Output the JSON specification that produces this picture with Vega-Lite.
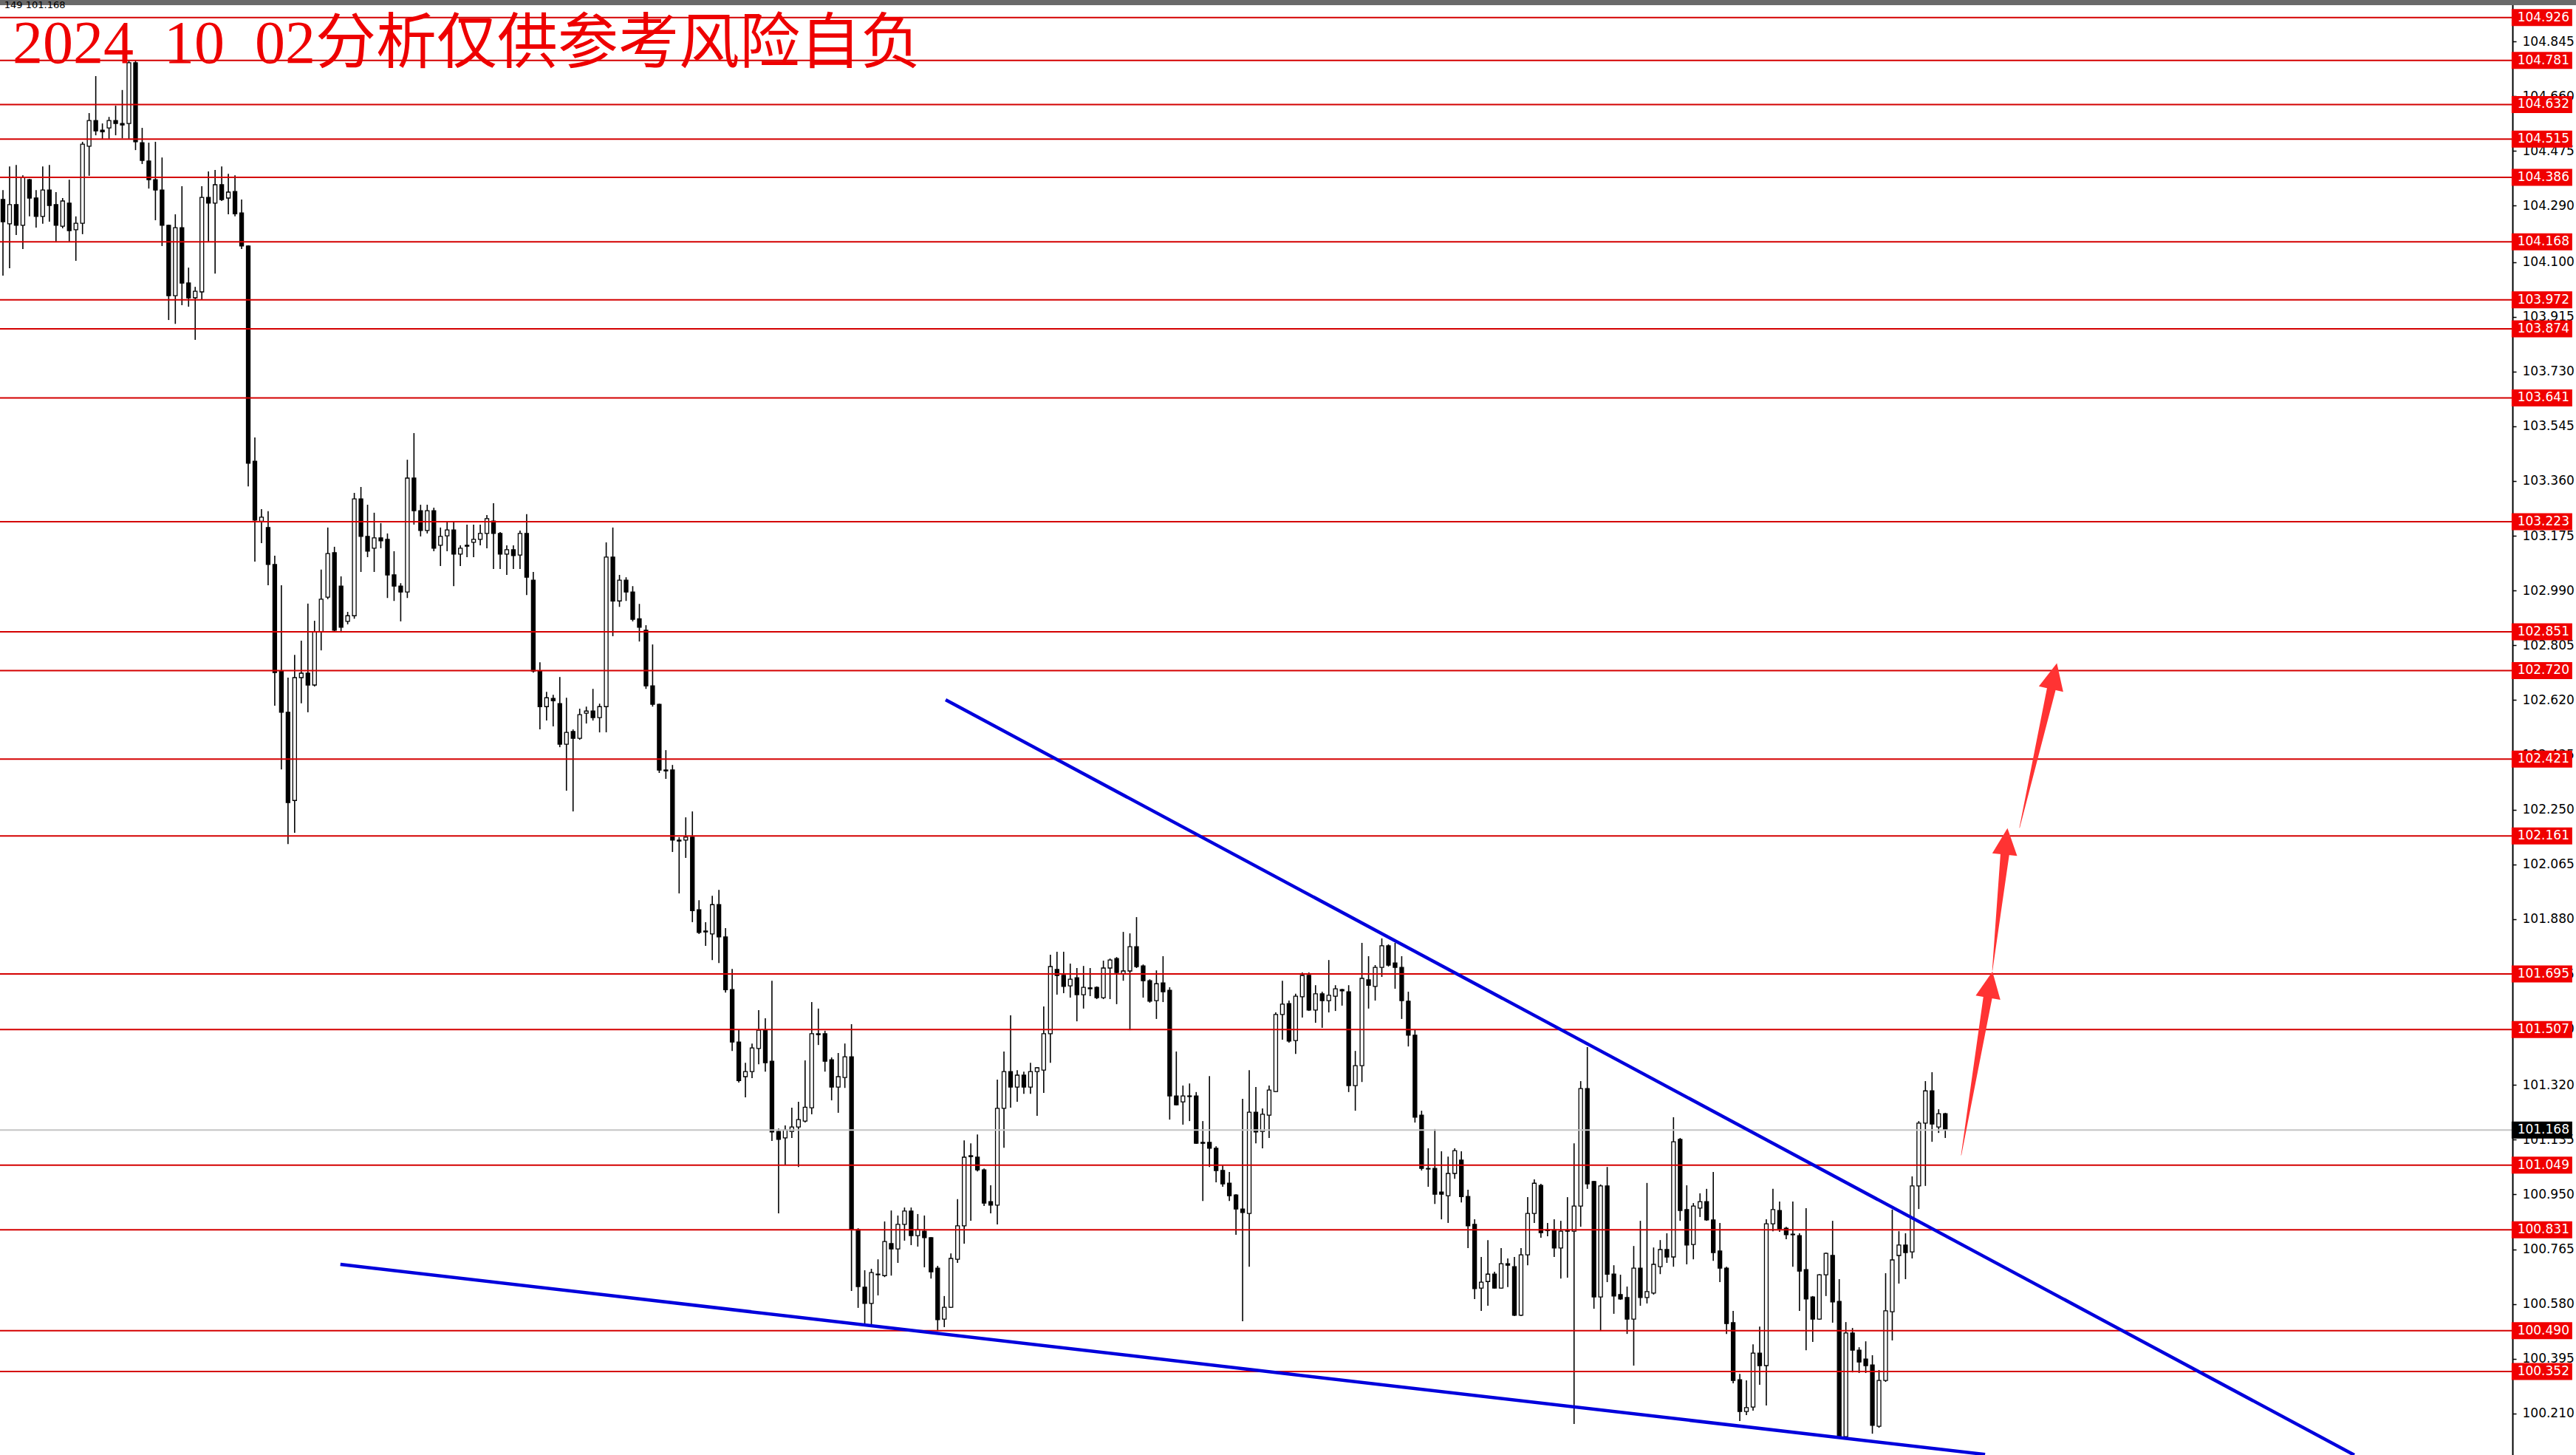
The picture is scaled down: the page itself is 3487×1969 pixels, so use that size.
{
"$schema": "https://vega.github.io/schema/vega-lite/v6.json",
"width": 3401,
"height": 1969,
"autosize": "none",
"padding": {"left": 0, "top": 0, "right": 86, "bottom": 0},
"background": "white",
"config": {"view": {"stroke": null},
"axis": {"grid": false},
"axisY": {"domainColor": "black", "domainWidth": 2, "tickColor": "black", "tickSize": 5, "tickWidth": 1.5,
"labelFont": "DejaVu Sans", "labelFontSize": 17, "labelColor": "black", "labelPadding": 8,
"labelOverlap": false, "labelFlush": false, "labelBound": false, "zindex": 0}},
"datasets": {
"candles": [
{"i":0,"o":104.311,"h":104.343,"l":104.054,"c":104.236},
{"i":1,"o":104.229,"h":104.423,"l":104.079,"c":104.294},
{"i":2,"o":104.294,"h":104.428,"l":104.191,"c":104.224},
{"i":3,"o":104.224,"h":104.393,"l":104.144,"c":104.386},
{"i":4,"o":104.378,"h":104.381,"l":104.254,"c":104.316},
{"i":5,"o":104.316,"h":104.343,"l":104.216,"c":104.254},
{"i":6,"o":104.254,"h":104.423,"l":104.229,"c":104.343},
{"i":7,"o":104.343,"h":104.428,"l":104.236,"c":104.291},
{"i":8,"o":104.294,"h":104.336,"l":104.169,"c":104.224},
{"i":9,"o":104.221,"h":104.316,"l":104.214,"c":104.306},
{"i":10,"o":104.299,"h":104.378,"l":104.169,"c":104.206},
{"i":11,"o":104.209,"h":104.254,"l":104.104,"c":104.231},
{"i":12,"o":104.231,"h":104.506,"l":104.194,"c":104.498},
{"i":13,"o":104.491,"h":104.603,"l":104.391,"c":104.578},
{"i":14,"o":104.578,"h":104.728,"l":104.528,"c":104.543},
{"i":15,"o":104.545,"h":104.568,"l":104.516,"c":104.540},
{"i":16,"o":104.553,"h":104.590,"l":104.516,"c":104.578},
{"i":17,"o":104.578,"h":104.628,"l":104.528,"c":104.568},
{"i":18,"o":104.568,"h":104.681,"l":104.518,"c":104.563},
{"i":19,"o":104.568,"h":104.780,"l":104.516,"c":104.773},
{"i":20,"o":104.773,"h":104.781,"l":104.478,"c":104.506},
{"i":21,"o":104.503,"h":104.553,"l":104.431,"c":104.443},
{"i":22,"o":104.441,"h":104.503,"l":104.348,"c":104.378},
{"i":23,"o":104.378,"h":104.506,"l":104.241,"c":104.343},
{"i":24,"o":104.343,"h":104.453,"l":104.154,"c":104.224},
{"i":25,"o":104.224,"h":104.226,"l":103.904,"c":103.986},
{"i":26,"o":103.986,"h":104.261,"l":103.891,"c":104.216},
{"i":27,"o":104.216,"h":104.356,"l":103.954,"c":104.029},
{"i":28,"o":104.029,"h":104.081,"l":103.949,"c":103.979},
{"i":29,"o":103.979,"h":104.016,"l":103.837,"c":104.001},
{"i":30,"o":103.999,"h":104.356,"l":103.974,"c":104.318},
{"i":31,"o":104.318,"h":104.406,"l":104.166,"c":104.299},
{"i":32,"o":104.299,"h":104.411,"l":104.061,"c":104.361},
{"i":33,"o":104.361,"h":104.423,"l":104.306,"c":104.311},
{"i":34,"o":104.316,"h":104.398,"l":104.261,"c":104.336},
{"i":35,"o":104.338,"h":104.393,"l":104.254,"c":104.263},
{"i":36,"o":104.266,"h":104.311,"l":104.144,"c":104.154},
{"i":37,"o":104.154,"h":104.156,"l":103.342,"c":103.420},
{"i":38,"o":103.427,"h":103.507,"l":103.088,"c":103.228},
{"i":39,"o":103.224,"h":103.265,"l":103.150,"c":103.238},
{"i":40,"o":103.203,"h":103.258,"l":103.008,"c":103.078},
{"i":41,"o":103.078,"h":103.108,"l":102.601,"c":102.713},
{"i":42,"o":102.718,"h":103.008,"l":102.386,"c":102.579},
{"i":43,"o":102.579,"h":102.696,"l":102.134,"c":102.274},
{"i":44,"o":102.281,"h":102.773,"l":102.172,"c":102.696},
{"i":45,"o":102.696,"h":102.821,"l":102.609,"c":102.711},
{"i":46,"o":102.711,"h":102.946,"l":102.579,"c":102.671},
{"i":47,"o":102.671,"h":102.888,"l":102.666,"c":102.851},
{"i":48,"o":102.851,"h":103.061,"l":102.788,"c":102.961},
{"i":49,"o":102.968,"h":103.203,"l":102.961,"c":103.115},
{"i":50,"o":103.118,"h":103.138,"l":102.851,"c":102.856},
{"i":51,"o":103.005,"h":103.038,"l":102.848,"c":102.866},
{"i":52,"o":102.886,"h":102.918,"l":102.876,"c":102.905},
{"i":53,"o":102.905,"h":103.320,"l":102.895,"c":103.300},
{"i":54,"o":103.300,"h":103.340,"l":103.053,"c":103.173},
{"i":55,"o":103.173,"h":103.280,"l":103.103,"c":103.123},
{"i":56,"o":103.133,"h":103.253,"l":103.053,"c":103.168},
{"i":57,"o":103.168,"h":103.218,"l":103.133,"c":103.158},
{"i":58,"o":103.163,"h":103.183,"l":102.965,"c":103.043},
{"i":59,"o":103.043,"h":103.123,"l":102.955,"c":103.005},
{"i":60,"o":103.005,"h":103.015,"l":102.886,"c":102.985},
{"i":61,"o":102.985,"h":103.432,"l":102.965,"c":103.370},
{"i":62,"o":103.370,"h":103.522,"l":103.213,"c":103.260},
{"i":63,"o":103.260,"h":103.280,"l":103.173,"c":103.193},
{"i":64,"o":103.193,"h":103.280,"l":103.183,"c":103.260},
{"i":65,"o":103.260,"h":103.270,"l":103.123,"c":103.133},
{"i":66,"o":103.143,"h":103.203,"l":103.073,"c":103.173},
{"i":67,"o":103.175,"h":103.223,"l":103.123,"c":103.195},
{"i":68,"o":103.195,"h":103.223,"l":103.005,"c":103.113},
{"i":69,"o":103.113,"h":103.143,"l":103.073,"c":103.133},
{"i":70,"o":103.143,"h":103.213,"l":103.103,"c":103.140},
{"i":71,"o":103.153,"h":103.213,"l":103.103,"c":103.163},
{"i":72,"o":103.163,"h":103.213,"l":103.143,"c":103.183},
{"i":73,"o":103.183,"h":103.245,"l":103.133,"c":103.233},
{"i":74,"o":103.225,"h":103.285,"l":103.063,"c":103.183},
{"i":75,"o":103.183,"h":103.188,"l":103.063,"c":103.113},
{"i":76,"o":103.113,"h":103.143,"l":103.043,"c":103.128},
{"i":77,"o":103.128,"h":103.143,"l":103.063,"c":103.108},
{"i":78,"o":103.110,"h":103.193,"l":103.063,"c":103.183},
{"i":79,"o":103.183,"h":103.248,"l":102.975,"c":103.035},
{"i":80,"o":103.025,"h":103.053,"l":102.713,"c":102.718},
{"i":81,"o":102.718,"h":102.748,"l":102.521,"c":102.598},
{"i":82,"o":102.598,"h":102.648,"l":102.551,"c":102.628},
{"i":83,"o":102.626,"h":102.638,"l":102.531,"c":102.618},
{"i":84,"o":102.608,"h":102.698,"l":102.461,"c":102.471},
{"i":85,"o":102.471,"h":102.628,"l":102.314,"c":102.511},
{"i":86,"o":102.514,"h":102.521,"l":102.244,"c":102.491},
{"i":87,"o":102.491,"h":102.591,"l":102.486,"c":102.571},
{"i":88,"o":102.576,"h":102.598,"l":102.541,"c":102.583},
{"i":89,"o":102.583,"h":102.658,"l":102.551,"c":102.561},
{"i":90,"o":102.561,"h":102.608,"l":102.511,"c":102.598},
{"i":91,"o":102.598,"h":103.153,"l":102.511,"c":103.103},
{"i":92,"o":103.103,"h":103.203,"l":102.836,"c":102.955},
{"i":93,"o":102.955,"h":103.043,"l":102.935,"c":103.025},
{"i":94,"o":103.025,"h":103.035,"l":102.955,"c":102.985},
{"i":95,"o":102.985,"h":103.005,"l":102.886,"c":102.893},
{"i":96,"o":102.895,"h":102.945,"l":102.818,"c":102.866},
{"i":97,"o":102.856,"h":102.873,"l":102.658,"c":102.668},
{"i":98,"o":102.668,"h":102.808,"l":102.598,"c":102.606},
{"i":99,"o":102.606,"h":102.608,"l":102.374,"c":102.384},
{"i":100,"o":102.384,"h":102.451,"l":102.354,"c":102.381},
{"i":101,"o":102.384,"h":102.401,"l":102.107,"c":102.147},
{"i":102,"o":102.147,"h":102.157,"l":101.967,"c":102.144},
{"i":103,"o":102.147,"h":102.224,"l":102.087,"c":102.157},
{"i":104,"o":102.157,"h":102.244,"l":101.870,"c":101.909},
{"i":105,"o":101.912,"h":101.944,"l":101.830,"c":101.835},
{"i":106,"o":101.840,"h":101.870,"l":101.790,"c":101.837},
{"i":107,"o":101.830,"h":101.959,"l":101.742,"c":101.929},
{"i":108,"o":101.929,"h":101.979,"l":101.732,"c":101.820},
{"i":109,"o":101.820,"h":101.850,"l":101.632,"c":101.642},
{"i":110,"o":101.642,"h":101.712,"l":101.435,"c":101.465},
{"i":111,"o":101.465,"h":101.508,"l":101.328,"c":101.335},
{"i":112,"o":101.348,"h":101.395,"l":101.278,"c":101.365},
{"i":113,"o":101.365,"h":101.460,"l":101.343,"c":101.445},
{"i":114,"o":101.443,"h":101.573,"l":101.390,"c":101.505},
{"i":115,"o":101.505,"h":101.545,"l":101.365,"c":101.395},
{"i":116,"o":101.400,"h":101.672,"l":101.131,"c":101.161},
{"i":117,"o":101.163,"h":101.173,"l":100.886,"c":101.136},
{"i":118,"o":101.141,"h":101.183,"l":101.051,"c":101.168},
{"i":119,"o":101.163,"h":101.243,"l":101.141,"c":101.178},
{"i":120,"o":101.178,"h":101.263,"l":101.043,"c":101.203},
{"i":121,"o":101.198,"h":101.403,"l":101.193,"c":101.245},
{"i":122,"o":101.243,"h":101.600,"l":101.221,"c":101.493},
{"i":123,"o":101.493,"h":101.578,"l":101.455,"c":101.490},
{"i":124,"o":101.493,"h":101.503,"l":101.365,"c":101.400},
{"i":125,"o":101.405,"h":101.413,"l":101.268,"c":101.313},
{"i":126,"o":101.313,"h":101.428,"l":101.226,"c":101.348},
{"i":127,"o":101.345,"h":101.460,"l":101.310,"c":101.415},
{"i":128,"o":101.415,"h":101.525,"l":100.624,"c":100.831},
{"i":129,"o":100.831,"h":100.836,"l":100.567,"c":100.639},
{"i":130,"o":100.637,"h":100.694,"l":100.512,"c":100.582},
{"i":131,"o":100.582,"h":100.699,"l":100.507,"c":100.686},
{"i":132,"o":100.681,"h":100.731,"l":100.609,"c":100.679},
{"i":133,"o":100.676,"h":100.859,"l":100.671,"c":100.791},
{"i":134,"o":100.784,"h":100.896,"l":100.676,"c":100.766},
{"i":135,"o":100.766,"h":100.879,"l":100.719,"c":100.849},
{"i":136,"o":100.849,"h":100.906,"l":100.794,"c":100.894},
{"i":137,"o":100.894,"h":100.906,"l":100.779,"c":100.811},
{"i":138,"o":100.811,"h":100.884,"l":100.774,"c":100.831},
{"i":139,"o":100.826,"h":100.879,"l":100.704,"c":100.804},
{"i":140,"o":100.804,"h":100.806,"l":100.666,"c":100.689},
{"i":141,"o":100.701,"h":100.709,"l":100.489,"c":100.527},
{"i":142,"o":100.529,"h":100.607,"l":100.502,"c":100.569},
{"i":143,"o":100.569,"h":100.751,"l":100.567,"c":100.734},
{"i":144,"o":100.731,"h":100.934,"l":100.719,"c":100.844},
{"i":145,"o":100.844,"h":101.133,"l":100.784,"c":101.076},
{"i":146,"o":101.081,"h":101.123,"l":100.861,"c":101.078},
{"i":147,"o":101.076,"h":101.153,"l":101.028,"c":101.033},
{"i":148,"o":101.033,"h":101.038,"l":100.911,"c":100.921},
{"i":149,"o":100.926,"h":100.981,"l":100.886,"c":100.914},
{"i":150,"o":100.914,"h":101.338,"l":100.849,"c":101.241},
{"i":151,"o":101.241,"h":101.433,"l":101.108,"c":101.365},
{"i":152,"o":101.365,"h":101.555,"l":101.243,"c":101.313},
{"i":153,"o":101.313,"h":101.370,"l":101.263,"c":101.353},
{"i":154,"o":101.353,"h":101.365,"l":101.290,"c":101.313},
{"i":155,"o":101.313,"h":101.395,"l":101.290,"c":101.365},
{"i":156,"o":101.365,"h":101.380,"l":101.216,"c":101.378},
{"i":157,"o":101.370,"h":101.585,"l":101.293,"c":101.493},
{"i":158,"o":101.493,"h":101.760,"l":101.395,"c":101.720},
{"i":159,"o":101.710,"h":101.770,"l":101.625,"c":101.690},
{"i":160,"o":101.690,"h":101.770,"l":101.630,"c":101.653},
{"i":161,"o":101.655,"h":101.730,"l":101.615,"c":101.677},
{"i":162,"o":101.682,"h":101.715,"l":101.535,"c":101.625},
{"i":163,"o":101.625,"h":101.722,"l":101.578,"c":101.650},
{"i":164,"o":101.648,"h":101.715,"l":101.620,"c":101.645},
{"i":165,"o":101.650,"h":101.653,"l":101.610,"c":101.615},
{"i":166,"o":101.615,"h":101.740,"l":101.610,"c":101.715},
{"i":167,"o":101.715,"h":101.747,"l":101.610,"c":101.742},
{"i":168,"o":101.747,"h":101.752,"l":101.593,"c":101.700},
{"i":169,"o":101.695,"h":101.837,"l":101.672,"c":101.705},
{"i":170,"o":101.705,"h":101.832,"l":101.505,"c":101.787},
{"i":171,"o":101.787,"h":101.887,"l":101.715,"c":101.720},
{"i":172,"o":101.722,"h":101.727,"l":101.615,"c":101.672},
{"i":173,"o":101.672,"h":101.677,"l":101.598,"c":101.603},
{"i":174,"o":101.605,"h":101.707,"l":101.543,"c":101.662},
{"i":175,"o":101.665,"h":101.755,"l":101.600,"c":101.635},
{"i":176,"o":101.640,"h":101.650,"l":101.203,"c":101.283},
{"i":177,"o":101.283,"h":101.433,"l":101.251,"c":101.253},
{"i":178,"o":101.263,"h":101.318,"l":101.186,"c":101.283},
{"i":179,"o":101.283,"h":101.325,"l":101.198,"c":101.281},
{"i":180,"o":101.283,"h":101.296,"l":101.121,"c":101.123},
{"i":181,"o":101.126,"h":101.198,"l":100.928,"c":101.123},
{"i":182,"o":101.126,"h":101.350,"l":101.043,"c":101.106},
{"i":183,"o":101.106,"h":101.113,"l":100.991,"c":101.031},
{"i":184,"o":101.031,"h":101.048,"l":100.976,"c":100.986},
{"i":185,"o":100.988,"h":101.026,"l":100.928,"c":100.946},
{"i":186,"o":100.948,"h":100.951,"l":100.814,"c":100.901},
{"i":187,"o":100.901,"h":101.273,"l":100.522,"c":100.889},
{"i":188,"o":100.886,"h":101.370,"l":100.706,"c":101.228},
{"i":189,"o":101.228,"h":101.313,"l":101.123,"c":101.161},
{"i":190,"o":101.163,"h":101.241,"l":101.106,"c":101.221},
{"i":191,"o":101.218,"h":101.318,"l":101.141,"c":101.303},
{"i":192,"o":101.298,"h":101.565,"l":101.296,"c":101.558},
{"i":193,"o":101.558,"h":101.672,"l":101.473,"c":101.593},
{"i":194,"o":101.595,"h":101.605,"l":101.463,"c":101.468},
{"i":195,"o":101.470,"h":101.628,"l":101.425,"c":101.620},
{"i":196,"o":101.618,"h":101.700,"l":101.548,"c":101.690},
{"i":197,"o":101.690,"h":101.700,"l":101.570,"c":101.573},
{"i":198,"o":101.573,"h":101.657,"l":101.530,"c":101.628},
{"i":199,"o":101.628,"h":101.635,"l":101.513,"c":101.605},
{"i":200,"o":101.605,"h":101.742,"l":101.565,"c":101.623},
{"i":201,"o":101.620,"h":101.657,"l":101.570,"c":101.645},
{"i":202,"o":101.642,"h":101.645,"l":101.588,"c":101.638},
{"i":203,"o":101.635,"h":101.657,"l":101.296,"c":101.318},
{"i":204,"o":101.318,"h":101.435,"l":101.233,"c":101.385},
{"i":205,"o":101.385,"h":101.800,"l":101.330,"c":101.680},
{"i":206,"o":101.675,"h":101.755,"l":101.578,"c":101.657},
{"i":207,"o":101.653,"h":101.725,"l":101.605,"c":101.717},
{"i":208,"o":101.717,"h":101.815,"l":101.685,"c":101.790},
{"i":209,"o":101.790,"h":101.795,"l":101.720,"c":101.725},
{"i":210,"o":101.732,"h":101.800,"l":101.645,"c":101.717},
{"i":211,"o":101.717,"h":101.755,"l":101.543,"c":101.605},
{"i":212,"o":101.603,"h":101.635,"l":101.450,"c":101.488},
{"i":213,"o":101.488,"h":101.508,"l":101.193,"c":101.211},
{"i":214,"o":101.218,"h":101.233,"l":101.031,"c":101.038},
{"i":215,"o":101.038,"h":101.106,"l":100.976,"c":101.036},
{"i":216,"o":101.038,"h":101.171,"l":100.918,"c":100.951},
{"i":217,"o":100.958,"h":101.096,"l":100.866,"c":100.951},
{"i":218,"o":100.946,"h":101.078,"l":100.854,"c":101.021},
{"i":219,"o":101.021,"h":101.106,"l":101.003,"c":101.098},
{"i":220,"o":101.066,"h":101.096,"l":100.923,"c":100.943},
{"i":221,"o":100.943,"h":100.966,"l":100.769,"c":100.844},
{"i":222,"o":100.849,"h":100.866,"l":100.597,"c":100.632},
{"i":223,"o":100.634,"h":100.739,"l":100.557,"c":100.654},
{"i":224,"o":100.656,"h":100.796,"l":100.574,"c":100.681},
{"i":225,"o":100.681,"h":100.689,"l":100.632,"c":100.634},
{"i":226,"o":100.634,"h":100.769,"l":100.632,"c":100.716},
{"i":227,"o":100.716,"h":100.734,"l":100.637,"c":100.711},
{"i":228,"o":100.706,"h":100.739,"l":100.539,"c":100.542},
{"i":229,"o":100.542,"h":100.769,"l":100.539,"c":100.746},
{"i":230,"o":100.746,"h":100.941,"l":100.711,"c":100.886},
{"i":231,"o":100.886,"h":101.001,"l":100.854,"c":100.988},
{"i":232,"o":100.981,"h":100.986,"l":100.804,"c":100.821},
{"i":233,"o":100.831,"h":100.854,"l":100.809,"c":100.828},
{"i":234,"o":100.831,"h":100.866,"l":100.739,"c":100.769},
{"i":235,"o":100.769,"h":100.861,"l":100.666,"c":100.826},
{"i":236,"o":100.826,"h":100.941,"l":100.669,"c":100.828},
{"i":237,"o":100.826,"h":101.123,"l":100.175,"c":100.911},
{"i":238,"o":100.911,"h":101.333,"l":100.841,"c":101.308},
{"i":239,"o":101.308,"h":101.448,"l":100.969,"c":100.986},
{"i":240,"o":100.994,"h":100.996,"l":100.564,"c":100.604},
{"i":241,"o":100.604,"h":100.984,"l":100.489,"c":100.979},
{"i":242,"o":100.979,"h":101.043,"l":100.654,"c":100.681},
{"i":243,"o":100.681,"h":100.711,"l":100.547,"c":100.607},
{"i":244,"o":100.612,"h":100.679,"l":100.594,"c":100.597},
{"i":245,"o":100.602,"h":100.639,"l":100.479,"c":100.529},
{"i":246,"o":100.529,"h":100.776,"l":100.372,"c":100.701},
{"i":247,"o":100.701,"h":100.861,"l":100.574,"c":100.602},
{"i":248,"o":100.602,"h":100.989,"l":100.582,"c":100.622},
{"i":249,"o":100.617,"h":100.771,"l":100.612,"c":100.714},
{"i":250,"o":100.706,"h":100.796,"l":100.681,"c":100.764},
{"i":251,"o":100.764,"h":100.819,"l":100.719,"c":100.739},
{"i":252,"o":100.739,"h":101.211,"l":100.706,"c":101.128},
{"i":253,"o":101.136,"h":101.141,"l":100.861,"c":100.896},
{"i":254,"o":100.899,"h":100.981,"l":100.714,"c":100.779},
{"i":255,"o":100.781,"h":100.921,"l":100.731,"c":100.911},
{"i":256,"o":100.904,"h":100.954,"l":100.874,"c":100.926},
{"i":257,"o":100.926,"h":100.969,"l":100.861,"c":100.864},
{"i":258,"o":100.864,"h":101.026,"l":100.726,"c":100.754},
{"i":259,"o":100.759,"h":100.854,"l":100.654,"c":100.701},
{"i":260,"o":100.701,"h":100.706,"l":100.479,"c":100.514},
{"i":261,"o":100.517,"h":100.557,"l":100.312,"c":100.322},
{"i":262,"o":100.324,"h":100.344,"l":100.185,"c":100.217},
{"i":263,"o":100.217,"h":100.322,"l":100.205,"c":100.230},
{"i":264,"o":100.232,"h":100.444,"l":100.220,"c":100.414},
{"i":265,"o":100.414,"h":100.504,"l":100.307,"c":100.372},
{"i":266,"o":100.372,"h":100.866,"l":100.237,"c":100.851},
{"i":267,"o":100.851,"h":100.969,"l":100.826,"c":100.899},
{"i":268,"o":100.896,"h":100.926,"l":100.824,"c":100.834},
{"i":269,"o":100.836,"h":100.841,"l":100.799,"c":100.814},
{"i":270,"o":100.816,"h":100.926,"l":100.706,"c":100.814},
{"i":271,"o":100.811,"h":100.819,"l":100.557,"c":100.691},
{"i":272,"o":100.696,"h":100.904,"l":100.424,"c":100.597},
{"i":273,"o":100.604,"h":100.607,"l":100.452,"c":100.529},
{"i":274,"o":100.529,"h":100.681,"l":100.527,"c":100.679},
{"i":275,"o":100.679,"h":100.754,"l":100.607,"c":100.751},
{"i":276,"o":100.744,"h":100.861,"l":100.517,"c":100.587},
{"i":277,"o":100.589,"h":100.664,"l":100.127,"c":100.132},
{"i":278,"o":100.132,"h":100.519,"l":100.125,"c":100.482},
{"i":279,"o":100.482,"h":100.499,"l":100.349,"c":100.424},
{"i":280,"o":100.424,"h":100.434,"l":100.347,"c":100.384},
{"i":281,"o":100.394,"h":100.454,"l":100.347,"c":100.372},
{"i":282,"o":100.374,"h":100.407,"l":100.142,"c":100.170},
{"i":283,"o":100.167,"h":100.357,"l":100.162,"c":100.322},
{"i":284,"o":100.322,"h":100.684,"l":100.317,"c":100.557},
{"i":285,"o":100.554,"h":100.899,"l":100.457,"c":100.729},
{"i":286,"o":100.744,"h":100.826,"l":100.649,"c":100.779},
{"i":287,"o":100.779,"h":100.819,"l":100.664,"c":100.754},
{"i":288,"o":100.756,"h":101.011,"l":100.734,"c":100.979},
{"i":289,"o":100.979,"h":101.198,"l":100.901,"c":101.191},
{"i":290,"o":101.191,"h":101.333,"l":100.979,"c":101.300},
{"i":291,"o":101.300,"h":101.363,"l":101.128,"c":101.188},
{"i":292,"o":101.178,"h":101.238,"l":101.158,"c":101.223},
{"i":293,"o":101.223,"h":101.226,"l":101.141,"c":101.168}
],
"levels": [
{"p":104.926,"kind":"level"},{"p":104.781,"kind":"level"},{"p":104.632,"kind":"level"},{"p":104.515,"kind":"level"},
{"p":104.386,"kind":"level"},{"p":104.168,"kind":"level"},{"p":103.972,"kind":"level"},{"p":103.874,"kind":"level"},
{"p":103.641,"kind":"level"},{"p":103.223,"kind":"level"},{"p":102.851,"kind":"level"},{"p":102.720,"kind":"level"},
{"p":102.421,"kind":"level"},{"p":102.161,"kind":"level"},{"p":101.695,"kind":"level"},{"p":101.507,"kind":"level"},
{"p":101.049,"kind":"level"},{"p":100.831,"kind":"level"},{"p":100.490,"kind":"level"},{"p":100.352,"kind":"level"},
{"p":101.168,"kind":"current"}
],
"trend": [
{"id":1,"i":142.2,"p":102.621},{"id":1,"i":354.7,"p":100.070},
{"id":2,"i":50.9,"p":100.714},{"id":2,"i":299.0,"p":100.072}
],
"shaft": [
{"a":1,"k":0,"i":295.4,"p":101.083},{"a":1,"k":1,"i":299.4,"p":101.615},
{"a":2,"k":0,"i":300.1,"p":101.707},{"a":2,"k":1,"i":302.0,"p":102.102},
{"a":3,"k":0,"i":304.2,"p":102.189},{"a":3,"k":1,"i":309.0,"p":102.658}
],
"heads": [
{"a":1,"i":299.78,"p":101.659},
{"a":2,"i":302.17,"p":102.143},
{"a":3,"i":309.39,"p":102.701}
]
},
"layer": [
{
"data": {"name": "candles"},
"mark": {"type": "rule", "color": "black", "strokeWidth": 1.6},
"encoding": {
"x": {"field": "i", "type": "quantitative", "scale": {"domain": [0.111, 378], "nice": false, "zero": false}, "axis": null},
"y": {"field": "l", "type": "quantitative", "scale": {"domain": [100.07, 104.985], "nice": false, "zero": false},
"axis": {"orient": "right", "title": null, "format": ".3f", "values": [104.845,104.66,104.475,104.29,104.1,103.915,103.73,103.545,103.36,103.175,102.99,102.805,102.62,102.435,102.25,102.065,101.88,101.695,101.51,101.32,101.135,100.95,100.765,100.58,100.395,100.21]}},
"y2": {"field": "h"}
}
},
{
"data": {"name": "candles"},
"mark": {"type": "bar", "size": 5, "stroke": "black", "strokeWidth": 1.3, "opacity": 1},
"encoding": {
"x": {"field": "i", "type": "quantitative", "scale": {"domain": [0.111, 378], "nice": false, "zero": false}, "axis": null},
"y": {"field": "o", "type": "quantitative", "scale": {"domain": [100.07, 104.985], "nice": false, "zero": false},
"axis": {"orient": "right", "title": null, "format": ".3f", "values": [104.845,104.66,104.475,104.29,104.1,103.915,103.73,103.545,103.36,103.175,102.99,102.805,102.62,102.435,102.25,102.065,101.88,101.695,101.51,101.32,101.135,100.95,100.765,100.58,100.395,100.21]}},
"y2": {"field": "c"},
"fill": {"condition": {"test": "datum.c > datum.o", "value": "white"}, "value": "black"}
}
},
{
"data": {"name": "levels"},
"mark": {"type": "rule", "strokeWidth": 2},
"encoding": {
"y": {"field": "p", "type": "quantitative", "scale": {"domain": [100.07, 104.985], "nice": false, "zero": false},
"axis": {"orient": "right", "title": null, "format": ".3f", "values": [104.845,104.66,104.475,104.29,104.1,103.915,103.73,103.545,103.36,103.175,102.99,102.805,102.62,102.435,102.25,102.065,101.88,101.695,101.51,101.32,101.135,100.95,100.765,100.58,100.395,100.21]}},
"color": {"condition": {"test": "datum.kind === 'current'", "value": "#c4c4c4"}, "value": "#d40000"}
}
},
{
"data": {"name": "trend"},
"mark": {"type": "line", "color": "#0000dc", "strokeWidth": 4.5},
"encoding": {
"x": {"field": "i", "type": "quantitative", "scale": {"domain": [0.111, 378], "nice": false, "zero": false}, "axis": null},
"y": {"field": "p", "type": "quantitative", "scale": {"domain": [100.07, 104.985], "nice": false, "zero": false},
"axis": {"orient": "right", "title": null, "format": ".3f", "values": [104.845,104.66,104.475,104.29,104.1,103.915,103.73,103.545,103.36,103.175,102.99,102.805,102.62,102.435,102.25,102.065,101.88,101.695,101.51,101.32,101.135,100.95,100.765,100.58,100.395,100.21]}},
"detail": {"field": "id"}
}
},
{
"data": {"name": "shaft"},
"mark": {"type": "trail", "color": "#ff3333"},
"encoding": {
"x": {"field": "i", "type": "quantitative", "scale": {"domain": [0.111, 378], "nice": false, "zero": false}, "axis": null},
"y": {"field": "p", "type": "quantitative", "scale": {"domain": [100.07, 104.985], "nice": false, "zero": false},
"axis": {"orient": "right", "title": null, "format": ".3f", "values": [104.845,104.66,104.475,104.29,104.1,103.915,103.73,103.545,103.36,103.175,102.99,102.805,102.62,102.435,102.25,102.065,101.88,101.695,101.51,101.32,101.135,100.95,100.765,100.58,100.395,100.21]}},
"size": {"field": "k", "type": "quantitative", "scale": {"domain": [0, 1], "range": [0.5, 12]}, "legend": null},
"detail": {"field": "a"},
"order": {"field": "k"}
}
},
{
"data": {"name": "heads"},
"transform": [{"filter": "datum.a === 1"}],
"mark": {"type": "point", "shape": "M0,-1L0.94,1L-0.94,1Z", "filled": true, "size": 1296, "angle": 9.6, "color": "#ff3333", "opacity": 1},
"encoding": {
"x": {"field": "i", "type": "quantitative", "scale": {"domain": [0.111, 378], "nice": false, "zero": false}, "axis": null},
"y": {"field": "p", "type": "quantitative", "scale": {"domain": [100.07, 104.985], "nice": false, "zero": false},
"axis": {"orient": "right", "title": null, "format": ".3f", "values": [104.845,104.66,104.475,104.29,104.1,103.915,103.73,103.545,103.36,103.175,102.99,102.805,102.62,102.435,102.25,102.065,101.88,101.695,101.51,101.32,101.135,100.95,100.765,100.58,100.395,100.21]}}
}
},
{
"data": {"name": "heads"},
"transform": [{"filter": "datum.a === 2"}],
"mark": {"type": "point", "shape": "M0,-1L0.94,1L-0.94,1Z", "filled": true, "size": 1296, "angle": 6, "color": "#ff3333", "opacity": 1},
"encoding": {
"x": {"field": "i", "type": "quantitative", "scale": {"domain": [0.111, 378], "nice": false, "zero": false}, "axis": null},
"y": {"field": "p", "type": "quantitative", "scale": {"domain": [100.07, 104.985], "nice": false, "zero": false},
"axis": {"orient": "right", "title": null, "format": ".3f", "values": [104.845,104.66,104.475,104.29,104.1,103.915,103.73,103.545,103.36,103.175,102.99,102.805,102.62,102.435,102.25,102.065,101.88,101.695,101.51,101.32,101.135,100.95,100.765,100.58,100.395,100.21]}}
}
},
{
"data": {"name": "heads"},
"transform": [{"filter": "datum.a === 3"}],
"mark": {"type": "point", "shape": "M0,-1L0.94,1L-0.94,1Z", "filled": true, "size": 1296, "angle": 12.7, "color": "#ff3333", "opacity": 1},
"encoding": {
"x": {"field": "i", "type": "quantitative", "scale": {"domain": [0.111, 378], "nice": false, "zero": false}, "axis": null},
"y": {"field": "p", "type": "quantitative", "scale": {"domain": [100.07, 104.985], "nice": false, "zero": false},
"axis": {"orient": "right", "title": null, "format": ".3f", "values": [104.845,104.66,104.475,104.29,104.1,103.915,103.73,103.545,103.36,103.175,102.99,102.805,102.62,102.435,102.25,102.065,101.88,101.695,101.51,101.32,101.135,100.95,100.765,100.58,100.395,100.21]}}
}
},
{
"data": {"values": [{"t": "2024\u00a0\u00a010\u00a0\u00a002分析仅供参考风险自负"}]},
"mark": {"type": "text", "align": "left", "baseline": "alphabetic", "font": "Liberation Serif, Noto Sans CJK SC", "fontSize": 82, "color": "#ee0000"},
"encoding": {
"x": {"datum": 1.44, "type": "quantitative", "scale": {"domain": [0.111, 378], "nice": false, "zero": false}, "axis": null},
"y": {"datum": 104.773, "type": "quantitative", "scale": {"domain": [100.07, 104.985], "nice": false, "zero": false},
"axis": {"orient": "right", "title": null, "format": ".3f", "values": [104.845,104.66,104.475,104.29,104.1,103.915,103.73,103.545,103.36,103.175,102.99,102.805,102.62,102.435,102.25,102.065,101.88,101.695,101.51,101.32,101.135,100.95,100.765,100.58,100.395,100.21]}},
"text": {"field": "t"}
}
},
{
"data": {"values": [{}]},
"mark": {"type": "rule", "color": "#6a6a6a", "strokeWidth": 7},
"encoding": {
"x": {"datum": -1, "type": "quantitative", "scale": {"domain": [0.111, 378], "nice": false, "zero": false}, "axis": null},
"x2": {"datum": 400},
"y": {"datum": 104.9765, "type": "quantitative", "scale": {"domain": [100.07, 104.985], "nice": false, "zero": false},
"axis": {"orient": "right", "title": null, "format": ".3f", "values": [104.845,104.66,104.475,104.29,104.1,103.915,103.73,103.545,103.36,103.175,102.99,102.805,102.62,102.435,102.25,102.065,101.88,101.695,101.51,101.32,101.135,100.95,100.765,100.58,100.395,100.21]}}
}
},
{
"data": {"values": [{"t": "149 101.168"}]},
"mark": {"type": "text", "align": "left", "baseline": "top", "font": "DejaVu Sans", "fontSize": 13, "color": "black"},
"encoding": {
"x": {"datum": 0.2, "type": "quantitative", "scale": {"domain": [0.111, 378], "nice": false, "zero": false}, "axis": null},
"y": {"datum": 104.9815, "type": "quantitative", "scale": {"domain": [100.07, 104.985], "nice": false, "zero": false},
"axis": {"orient": "right", "title": null, "format": ".3f", "values": [104.845,104.66,104.475,104.29,104.1,103.915,103.73,103.545,103.36,103.175,102.99,102.805,102.62,102.435,102.25,102.065,101.88,101.695,101.51,101.32,101.135,100.95,100.765,100.58,100.395,100.21]}},
"text": {"field": "t"}
}
},
{
"data": {"name": "levels"},
"mark": {"type": "tick", "orient": "horizontal", "size": 82, "thickness": 23, "opacity": 1},
"encoding": {
"x": {"datum": 383.0, "type": "quantitative", "scale": {"domain": [0.111, 378], "nice": false, "zero": false}, "axis": null},
"y": {"field": "p", "type": "quantitative", "scale": {"domain": [100.07, 104.985], "nice": false, "zero": false},
"axis": {"orient": "right", "title": null, "format": ".3f", "values": [104.845,104.66,104.475,104.29,104.1,103.915,103.73,103.545,103.36,103.175,102.99,102.805,102.62,102.435,102.25,102.065,101.88,101.695,101.51,101.32,101.135,100.95,100.765,100.58,100.395,100.21]}},
"color": {"condition": {"test": "datum.kind === 'current'", "value": "#000000"}, "value": "#f00000"}
}
},
{
"data": {"name": "levels"},
"mark": {"type": "text", "align": "left", "baseline": "middle", "font": "DejaVu Sans", "fontSize": 17, "color": "white"},
"encoding": {
"x": {"datum": 379.3, "type": "quantitative", "scale": {"domain": [0.111, 378], "nice": false, "zero": false}, "axis": null},
"y": {"field": "p", "type": "quantitative", "scale": {"domain": [100.07, 104.985], "nice": false, "zero": false},
"axis": {"orient": "right", "title": null, "format": ".3f", "values": [104.845,104.66,104.475,104.29,104.1,103.915,103.73,103.545,103.36,103.175,102.99,102.805,102.62,102.435,102.25,102.065,101.88,101.695,101.51,101.32,101.135,100.95,100.765,100.58,100.395,100.21]}},
"text": {"field": "p", "type": "quantitative", "format": ".3f"}
}
}
]
}
